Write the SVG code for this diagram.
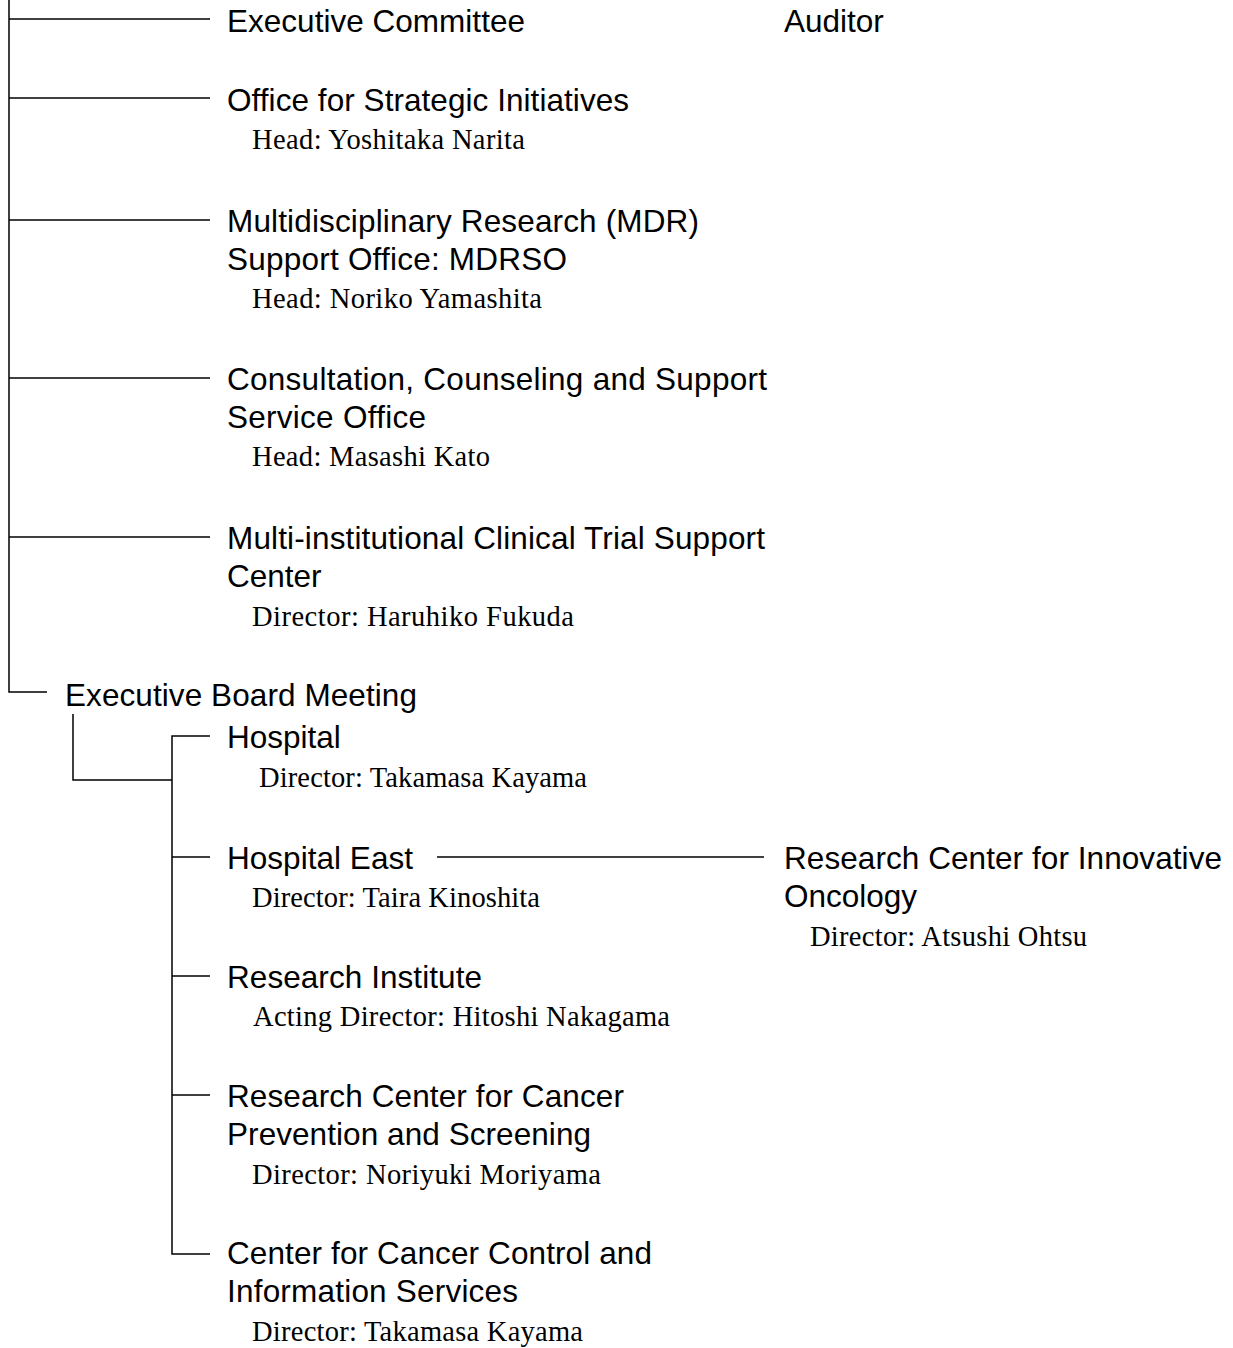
<svg xmlns="http://www.w3.org/2000/svg" width="1233" height="1348" viewBox="0 0 1233 1348">
<style>
.t{font-family:"Liberation Sans",Arial,sans-serif;font-size:31.5px;fill:#000}
.s{font-family:"Liberation Serif","Times New Roman",serif;font-size:28.5px;fill:#000}
.c{stroke:#000;stroke-width:1.5;fill:none}
</style>
<rect width="1233" height="1348" fill="#fff"/>
<g id="connectors" class="c">
<path d="M9 0V692H47"/>
<path d="M9 19H210"/>
<path d="M9 98H210"/>
<path d="M9 220H210"/>
<path d="M9 378H210"/>
<path d="M9 537H210"/>
<path d="M73 714V780H172"/>
<path d="M210 736H172V1254H210"/>
<path d="M172 857H210"/>
<path d="M172 976H210"/>
<path d="M172 1095H210"/>
<path d="M437 857H764"/>
</g>
<g id="executive-committee"><text class="t" x="227" y="32" textLength="298">Executive Committee</text></g>
<g id="auditor"><text class="t" x="784" y="32">Auditor</text></g>
<g id="office-strategic"><text class="t" x="227" y="111" textLength="402">Office for Strategic Initiatives</text>
<text class="s" x="252" y="149" textLength="273">Head: Yoshitaka Narita</text></g>
<g id="mdrso"><text class="t" x="227" y="232" textLength="472">Multidisciplinary Research (MDR)</text>
<text class="t" x="227" y="270" textLength="340">Support Office: MDRSO</text>
<text class="s" x="252" y="308" textLength="290">Head: Noriko Yamashita</text></g>
<g id="consultation"><text class="t" x="227" y="390" textLength="540">Consultation, Counseling and Support</text>
<text class="t" x="227" y="428" textLength="199">Service Office</text>
<text class="s" x="252" y="466" textLength="238">Head: Masashi Kato</text></g>
<g id="clinical-trial"><text class="t" x="227" y="549" textLength="538">Multi-institutional Clinical Trial Support</text>
<text class="t" x="227" y="587">Center</text>
<text class="s" x="252" y="626" textLength="322">Director: Haruhiko Fukuda</text></g>
<g id="executive-board"><text class="t" x="65" y="706" textLength="352">Executive Board Meeting</text></g>
<g id="hospital"><text class="t" x="227" y="748">Hospital</text>
<text class="s" x="259" y="787" textLength="328">Director: Takamasa Kayama</text></g>
<g id="hospital-east"><text class="t" x="227" y="869" textLength="186">Hospital East</text>
<text class="s" x="252" y="907" textLength="288">Director: Taira Kinoshita</text></g>
<g id="innovative-oncology"><text class="t" x="784" y="869" textLength="438">Research Center for Innovative</text>
<text class="t" x="784" y="907">Oncology</text>
<text class="s" x="810" y="946" textLength="277">Director: Atsushi Ohtsu</text></g>
<g id="research-institute"><text class="t" x="227" y="988" textLength="255">Research Institute</text>
<text class="s" x="253" y="1026" textLength="417">Acting Director: Hitoshi Nakagama</text></g>
<g id="cancer-prevention"><text class="t" x="227" y="1107" textLength="397">Research Center for Cancer</text>
<text class="t" x="227" y="1145" textLength="364">Prevention and Screening</text>
<text class="s" x="252" y="1184" textLength="349">Director: Noriyuki Moriyama</text></g>
<g id="cancer-control"><text class="t" x="227" y="1264" textLength="425">Center for Cancer Control and</text>
<text class="t" x="227" y="1302" textLength="291">Information Services</text>
<text class="s" x="252" y="1341" textLength="331">Director: Takamasa Kayama</text></g>
</svg>
